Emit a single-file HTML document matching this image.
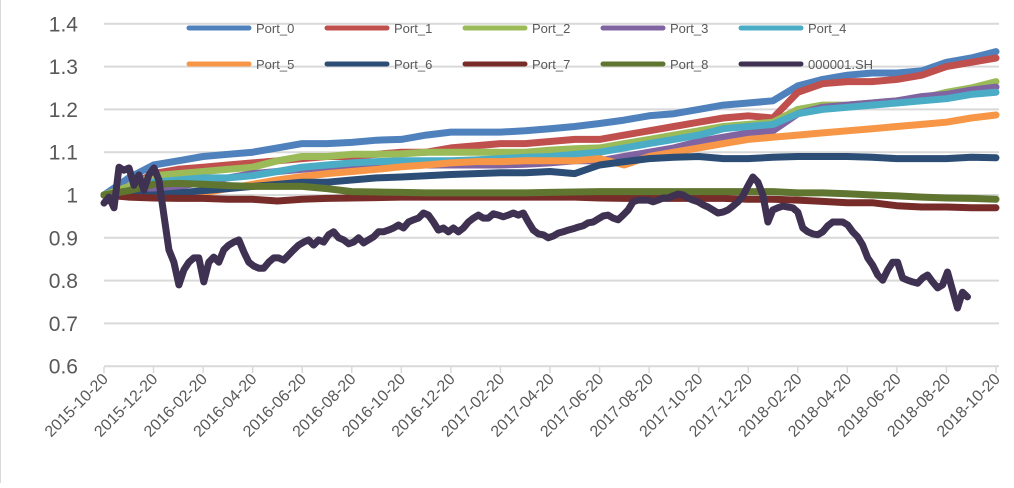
<!DOCTYPE html>
<html><head><meta charset="utf-8">
<style>
html,body{margin:0;padding:0;background:#fff;}
body{width:1014px;height:483px;overflow:hidden;font-family:"Liberation Sans",sans-serif;}
#wrap{position:relative;width:1014px;height:483px;border-left:1px solid #d9d9d9;box-sizing:border-box;}
</style></head>
<body>
<div id="wrap">
<svg id="chart" width="1014" height="483"></svg>
</div>
<script>
const tickLabels=["2015-10-20","2015-12-20","2016-02-20","2016-04-20","2016-06-20","2016-08-20","2016-10-20","2016-12-20","2017-02-20","2017-04-20","2017-06-20","2017-08-20","2017-10-20","2017-12-20","2018-02-20","2018-04-20","2018-06-20","2018-08-20","2018-10-20"];
const yTicks=[0.6,0.7,0.8,0.9,1,1.1,1.2,1.3,1.4];
const yTickLabels=["0.6","0.7","0.8","0.9","1","1.1","1.2","1.3","1.4"];
const seriesNames=["Port_0","Port_1","Port_2","Port_3","Port_4","Port_5","Port_6","Port_7","Port_8","000001.SH"];
const seriesColors=["#4F81BD","#C0504D","#9BBB59","#8064A2","#4BACC6","#F79646","#2C4D75","#772C2A","#5F7530","#3F3151"];
const port0=[1.00,1.04,1.07,1.08,1.09,1.095,1.10,1.11,1.12,1.12,1.123,1.128,1.13,1.14,1.147,1.147,1.147,1.15,1.155,1.16,1.167,1.175,1.185,1.19,1.20,1.21,1.215,1.22,1.255,1.27,1.28,1.285,1.285,1.29,1.31,1.32,1.335];
const port1=[1.00,1.02,1.05,1.06,1.065,1.07,1.075,1.08,1.085,1.09,1.09,1.095,1.10,1.10,1.11,1.115,1.12,1.12,1.125,1.13,1.13,1.14,1.15,1.16,1.17,1.18,1.185,1.18,1.24,1.26,1.265,1.265,1.27,1.28,1.30,1.31,1.32];
const port2=[1.00,1.02,1.045,1.05,1.055,1.06,1.065,1.08,1.09,1.09,1.095,1.095,1.096,1.10,1.10,1.10,1.10,1.10,1.105,1.108,1.11,1.12,1.13,1.14,1.15,1.16,1.165,1.17,1.20,1.21,1.21,1.215,1.22,1.225,1.24,1.25,1.265];
const port3=[1.00,1.00,1.015,1.02,1.03,1.04,1.05,1.055,1.06,1.065,1.07,1.07,1.07,1.07,1.07,1.07,1.07,1.072,1.075,1.08,1.08,1.09,1.10,1.11,1.125,1.135,1.145,1.15,1.19,1.205,1.21,1.215,1.22,1.23,1.235,1.245,1.252];
const port4=[1.00,1.01,1.03,1.035,1.04,1.04,1.045,1.055,1.065,1.07,1.075,1.078,1.08,1.08,1.08,1.082,1.085,1.088,1.09,1.095,1.10,1.11,1.12,1.13,1.14,1.155,1.16,1.165,1.19,1.20,1.205,1.21,1.215,1.22,1.225,1.235,1.24];
const port5=[1.00,1.00,0.995,1.00,1.005,1.015,1.025,1.035,1.043,1.05,1.055,1.06,1.066,1.07,1.075,1.078,1.078,1.08,1.08,1.08,1.085,1.07,1.09,1.10,1.11,1.12,1.13,1.135,1.14,1.145,1.15,1.155,1.16,1.165,1.17,1.18,1.187];
const port6=[1.00,1.00,1.00,1.005,1.01,1.015,1.02,1.025,1.03,1.03,1.035,1.04,1.042,1.045,1.048,1.05,1.052,1.052,1.055,1.05,1.07,1.078,1.085,1.088,1.09,1.085,1.085,1.088,1.09,1.09,1.09,1.088,1.085,1.085,1.085,1.088,1.087];
const port7=[1.00,0.995,0.993,0.992,0.992,0.99,0.99,0.986,0.99,0.992,0.993,0.994,0.995,0.995,0.995,0.995,0.995,0.995,0.995,0.995,0.993,0.992,0.992,0.992,0.992,0.992,0.99,0.99,0.988,0.985,0.982,0.982,0.975,0.972,0.972,0.97,0.97];
const port8=[1.00,1.01,1.025,1.027,1.025,1.022,1.02,1.02,1.02,1.015,1.008,1.007,1.006,1.005,1.005,1.005,1.005,1.005,1.006,1.007,1.008,1.008,1.008,1.008,1.008,1.008,1.008,1.008,1.005,1.005,1.003,1.0,0.998,0.995,0.993,0.992,0.99];
const indexEndDay=1061;
const indexVals=[0.981,0.995,0.970,1.065,1.058,1.063,1.023,1.047,1.012,1.047,1.063,1.035,0.953,0.872,0.843,0.790,0.825,0.843,0.853,0.853,0.797,0.843,0.855,0.843,0.872,0.883,0.890,0.895,0.867,0.843,0.834,0.829,0.829,0.843,0.853,0.853,0.848,0.860,0.872,0.883,0.890,0.895,0.883,0.895,0.890,0.907,0.914,0.900,0.895,0.886,0.890,0.900,0.888,0.895,0.902,0.914,0.914,0.918,0.923,0.930,0.923,0.937,0.942,0.946,0.958,0.953,0.937,0.918,0.923,0.914,0.923,0.914,0.923,0.937,0.946,0.953,0.946,0.946,0.956,0.953,0.949,0.953,0.958,0.953,0.958,0.937,0.918,0.909,0.907,0.900,0.904,0.911,0.914,0.918,0.921,0.925,0.928,0.935,0.937,0.944,0.951,0.953,0.946,0.942,0.953,0.965,0.984,0.988,0.988,0.988,0.984,0.988,0.993,0.993,0.998,1.002,1.000,0.993,0.988,0.984,0.977,0.972,0.965,0.958,0.960,0.965,0.974,0.984,0.998,1.021,1.042,1.030,1.000,0.937,0.965,0.970,0.974,0.972,0.970,0.960,0.923,0.914,0.909,0.907,0.914,0.928,0.937,0.937,0.937,0.930,0.914,0.902,0.883,0.853,0.836,0.813,0.801,0.825,0.843,0.843,0.806,0.801,0.797,0.794,0.806,0.813,0.797,0.783,0.790,0.820,0.778,0.736,0.773,0.762];

const NS="http://www.w3.org/2000/svg";
const svg=document.getElementById('chart');
const X0=103,X1=995,Y0=195,PPU=428,TOTAL_DAYS=1096,MONTHS=36;
function yScale(v){return Y0-(v-1)*PPU;}
function xMonth(t){return X0+t*(X1-X0)/MONTHS;}
function xDay(d){return X0+d*(X1-X0)/TOTAL_DAYS;}
function mk(tag,attrs){const e=document.createElementNS(NS,tag);for(const k in attrs)e.setAttribute(k,attrs[k]);svg.appendChild(e);return e;}

yTicks.forEach((v,i)=>{
  const g=mk('line',{x1:X0,x2:998,y1:yScale(v),y2:yScale(v),stroke:'#d9d9d9','stroke-width':2});
  
  
  const t=mk('text',{x:77,y:yScale(v)+7.5,'text-anchor':'end','font-size':21,fill:'#595959','font-family':'Liberation Sans, sans-serif'});
  t.textContent=yTickLabels[i];
  
  
});
tickLabels.forEach((lab,i)=>{
  const x=xMonth(i*2);
  const tk=mk('line',{x1:x,x2:x,y1:367,y2:373,stroke:'#d9d9d9','stroke-width':1.5});
  
  
  const ax=x+5,ay=380;
  const t=mk('text',{x:ax,y:ay,'text-anchor':'end','font-size':16,fill:'#595959','font-family':'Liberation Sans, sans-serif',transform:`rotate(-45 ${ax} ${ay})`});
  t.textContent=lab;
  
  
});
const ports=[port0,port1,port2,port3,port4,port5,port6,port7,port8];
ports.forEach((arr,si)=>{
  const pts=arr.map((v,i)=>xMonth(i).toFixed(1)+','+yScale(v).toFixed(1)).join(' ');
  const p=mk('polyline',{points:pts,fill:'none',stroke:seriesColors[si],'stroke-width':7,'stroke-linejoin':'round','stroke-linecap':'round'});
  
  
});
{
  const n=indexVals.length;
  const pts=indexVals.map((v,i)=>xDay(i*indexEndDay/(n-1)).toFixed(1)+','+yScale(v).toFixed(1)).join(' ');
  const p=mk('polyline',{points:pts,fill:'none',stroke:seriesColors[9],'stroke-width':7,'stroke-linejoin':'round','stroke-linecap':'round'});
  
  
}
seriesNames.forEach((nm,i)=>{
  const col=i%5,row=Math.floor(i/5);
  const lx=188+col*138,ly=28+row*36;
  const l=mk('line',{x1:lx,x2:lx+60,y1:ly,y2:ly,stroke:seriesColors[i],'stroke-width':5,'stroke-linecap':'round'});
  
  
  const t=mk('text',{x:lx+67,y:ly+5,'font-size':13,fill:'#595959','font-family':'Liberation Sans, sans-serif'});
  t.textContent=nm;
  
  
});
</script>
</body></html>
